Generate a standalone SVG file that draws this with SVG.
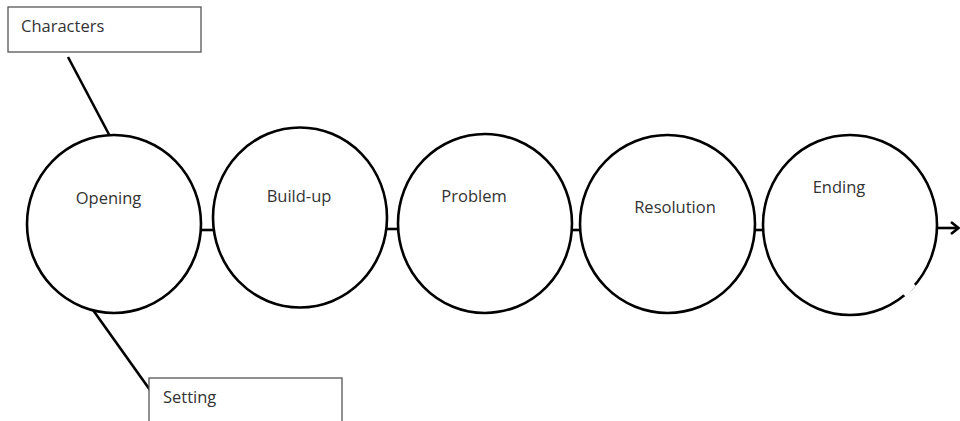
<svg xmlns="http://www.w3.org/2000/svg" width="960" height="421" viewBox="0 0 960 421">
<style>
.c{fill:#fff;stroke:#000;stroke-width:2.6}
.b{fill:#fff;stroke:#555;stroke-width:1.3}
.t{font-family:"Open Sans","Liberation Sans",sans-serif;font-size:16.5px;fill:#333}
.l{stroke:#000;stroke-width:2.6;fill:none}
</style>
<rect width="960" height="421" fill="#fff"/>
<g id="connectors">
<line class="l" x1="68" y1="57" x2="113" y2="142"/>
<line class="l" x1="88" y1="303" x2="150" y2="390"/>
<line class="l" x1="200" y1="230" x2="214" y2="230"/>
<line class="l" x1="386" y1="229" x2="399" y2="229"/>
<line class="l" x1="571" y1="230" x2="581" y2="230"/>
<line class="l" x1="754" y1="230" x2="764" y2="230"/>
<line class="l" x1="936" y1="228" x2="958" y2="228"/>
<path class="l" d="M951,222 L958.5,228 L951,234"/>
</g>
<g id="characters">
<rect class="b" x="8" y="7" width="193" height="45"/>
<text class="t" x="21" y="32">Characters</text>
</g>
<g id="setting">
<rect class="b" x="149" y="378" width="193" height="60"/>
<text class="t" x="163" y="403">Setting</text>
</g>
<g id="opening">
<ellipse class="c" cx="114" cy="224" rx="87" ry="89"/>
<text class="t" x="108.5" y="204" text-anchor="middle">Opening</text>
</g>
<g id="buildup">
<ellipse class="c" cx="300" cy="217.5" rx="87" ry="90"/>
<text class="t" x="299" y="202" text-anchor="middle">Build-up</text>
</g>
<g id="problem">
<ellipse class="c" cx="485" cy="223.5" rx="87" ry="89.5"/>
<text class="t" x="474" y="202" text-anchor="middle">Problem</text>
</g>
<g id="resolution">
<ellipse class="c" cx="667.5" cy="224" rx="87.5" ry="89"/>
<text class="t" x="675" y="213" text-anchor="middle">Resolution</text>
</g>
<g id="ending">
<ellipse class="c" cx="850" cy="225" rx="87" ry="90"/>
<line x1="904" y1="295" x2="914" y2="284" stroke="#fff" stroke-width="5"/>
<text class="t" x="839" y="193" text-anchor="middle">Ending</text>
</g>
</svg>
